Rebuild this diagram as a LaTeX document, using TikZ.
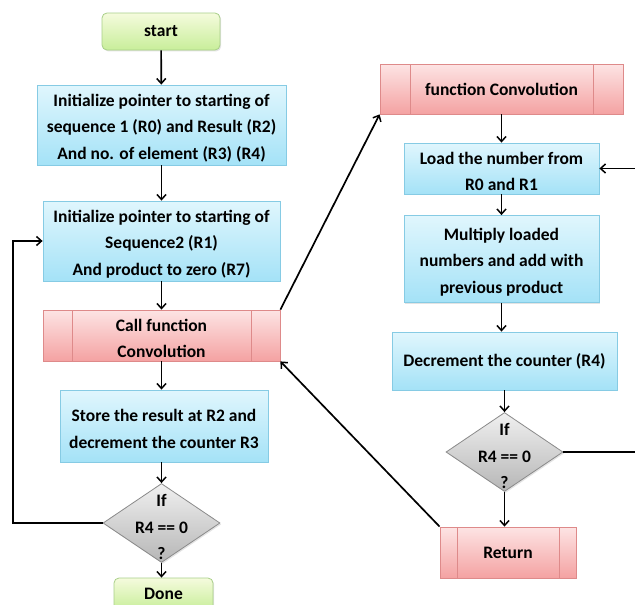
\documentclass[tikz,border=0pt]{standalone}
\usepackage{fontspec}
\setmainfont{Carlito}
\usetikzlibrary{shapes.geometric,arrows.meta,shadows}

\definecolor{blueTop}{HTML}{E0F6FD}
\definecolor{blueBot}{HTML}{A4E2F7}
\definecolor{blueLine}{HTML}{86CBE4}
\definecolor{redTop}{HTML}{FDE4E4}
\definecolor{redBot}{HTML}{F4A2A2}
\definecolor{redLine}{HTML}{DE8A8A}
\definecolor{greenTop}{HTML}{F5FBDD}
\definecolor{greenBot}{HTML}{C8EE9A}
\definecolor{greenLine}{HTML}{A8CF88}
\definecolor{grayTop}{HTML}{F0F0F0}
\definecolor{grayBot}{HTML}{B6B6B6}
\definecolor{grayLine}{HTML}{8A8A8A}

% taller first line, so that stacked text sits a little lower in its box
\newcommand\firstline{\rule{0pt}{18pt}}
\newcommand\firstlinetall{\rule{0pt}{21pt}}

\tikzset{
  base/.style={draw, line width=0.8pt, align=center, inner sep=0pt,
    drop shadow={shadow xshift=1.2pt, shadow yshift=-1.4pt, opacity=0.22}},
  procbox/.style={base, rectangle, top color=blueTop, bottom color=blueBot, draw=blueLine},
  termbox/.style={base, rectangle, rounded corners=5pt, top color=greenTop,
    bottom color=greenBot, draw=greenLine},
  subbox/.style={base, rectangle, top color=redTop, bottom color=redBot, draw=redLine,
    path picture={
      \draw[redLine, line width=0.8pt]
        ([xshift=#1]path picture bounding box.north west) --
        ([xshift=#1]path picture bounding box.south west)
        ([xshift=-#1]path picture bounding box.north east) --
        ([xshift=-#1]path picture bounding box.south east);}},
  decbox/.style={base, diamond, top color=grayTop, bottom color=grayBot, draw=grayLine,
    minimum width=117pt, minimum height=79pt},
  dectext/.style={align=center, font=\fontsize{17.5}{26.5}\selectfont\bfseries},
  arr/.style={-{Straight Barb[length=5pt,width=9pt,line width=1.5pt]}, line width=1.7pt}
}

\begin{document}
\begin{tikzpicture}[x=1pt, y=-1pt,
  font=\fontsize{17.5}{26.5}\selectfont\bfseries]
\useasboundingbox (0,0) rectangle (635,605);

% main program column
\node[termbox, minimum width=118pt, minimum height=37pt] (start) at (161,31.5) {start};
\node[procbox, minimum width=249pt, minimum height=80pt] (init1) at (161.5,125)
  {\firstline Initialize pointer to starting of\\sequence 1 (R0) and Result (R2)\\And no. of element (R3) (R4)};
\node[procbox, minimum width=237pt, minimum height=80pt] (init2) at (161.5,241)
  {\firstline Initialize pointer to starting of\\Sequence2 (R1)\\And product to zero (R7)};
\node[subbox=29pt, minimum width=237pt, minimum height=51pt] (call) at (161.5,335.5)
  {\firstline Call function\\Convolution};
\node[procbox, minimum width=208pt, minimum height=72pt] (store) at (164,426)
  {\firstline Store the result at R2 and\\decrement the counter R3};
\node[decbox, label={[dectext]center:\firstlinetall If\\R4 == 0\\?}]
  (test1) at (161.5,523) {};
\node[termbox, minimum width=99pt, minimum height=32pt] (done) at (163.5,594) {Done};

% subroutine column
\node[subbox=30pt, minimum width=243pt, minimum height=50pt] (func) at (501.5,89)
  {function Convolution};
\node[procbox, minimum width=195pt, minimum height=51pt] (load) at (501.5,168.5)
  {\firstline Load the number from\\R0 and R1};
\node[procbox, minimum width=195pt, minimum height=87pt] (mult) at (501.5,259)
  {\firstline Multiply loaded\\numbers and add with\\previous product};
\node[procbox, minimum width=225pt, minimum height=58pt] (decr) at (504.5,361)
  {Decrement the counter (R4)};
\node[decbox, label={[dectext]center:\firstlinetall If\\R4 == 0\\?}]
  (test2) at (504.5,452) {};
\node[subbox=17pt, minimum width=136pt, minimum height=51pt] (ret) at (508,552.5) {Return};

% loop-back turning points
\coordinate (lx) at (13,0);
\coordinate (rx) at (640,0);

% main flow
\draw[arr] (start) -- (init1);
\draw[arr] (init1) -- (init2);
\draw[arr] (init2) -- (call);
\draw[arr] (call.south) -- (call.south |- store.north);
\draw[arr] (store.south -| test1.north) -- (test1.north);
\draw[arr] (test1.south) -- (test1.south |- done.north);
\draw[arr] (test1.west) -- (test1.west -| lx) |- (init2.west);

% subroutine flow
\draw[arr] (func) -- (load);
\draw[arr] (load) -- (mult);
\draw[arr] (mult.south) -- (mult.south |- decr.north);
\draw[arr] (decr.south -| test2.north) -- (test2.north);
\draw[arr] (test2.south) -- (test2.south |- ret.north);
\draw[arr] (test2.east) -- (test2.east -| rx) |- (load.east);

% call and return
\draw[arr] (call.north east) -- (func.south west);
\draw[arr] (ret.north west) -- (call.south east);
\end{tikzpicture}
\end{document}
